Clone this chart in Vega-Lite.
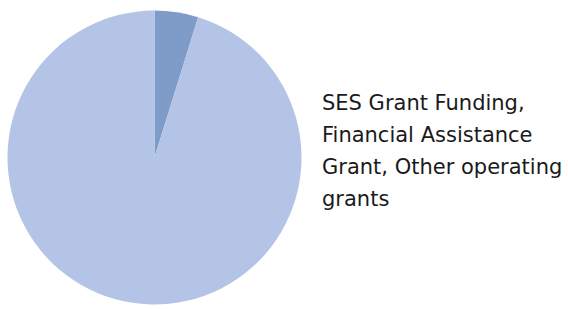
{
  "$schema": "https://vega.github.io/schema/vega-lite/v6.json",
  "padding": {"top": 6, "left": 0, "right": 0, "bottom": 0},
  "background": "white",
  "config": {"view": {"stroke": null}, "font": "DejaVu Sans", "concat": {"spacing": 0}},
  "hconcat": [
    {
      "width": 309,
      "height": 303,
      "data": {"values": [
        {"category": "Other", "order": 1, "value": 4.8},
        {"category": "SES Grant Funding, Financial Assistance Grant, Other operating grants", "order": 2, "value": 95.2}
      ]},
      "mark": {"type": "arc", "outerRadius": 147},
      "encoding": {
        "theta": {"field": "value", "type": "quantitative", "stack": true},
        "order": {"field": "order", "type": "quantitative"},
        "color": {
          "field": "category", "type": "nominal", "legend": null,
          "scale": {"domain": ["Other", "SES Grant Funding, Financial Assistance Grant, Other operating grants"], "range": ["#7f9bc8", "#b4c4e6"]}
        }
      }
    },
    {
      "width": 26,
      "height": 303,
      "data": {"values": [
        {"label": "SES Grant Funding,\nFinancial Assistance\nGrant, Other operating\ngrants"}
      ]},
      "mark": {"type": "text", "align": "left", "baseline": "middle", "fontSize": 21, "lineHeight": 32, "lineBreak": "\n", "color": "#1a1a1a", "dy": -54},
      "encoding": {"text": {"field": "label", "type": "nominal"}}
    }
  ]
}
